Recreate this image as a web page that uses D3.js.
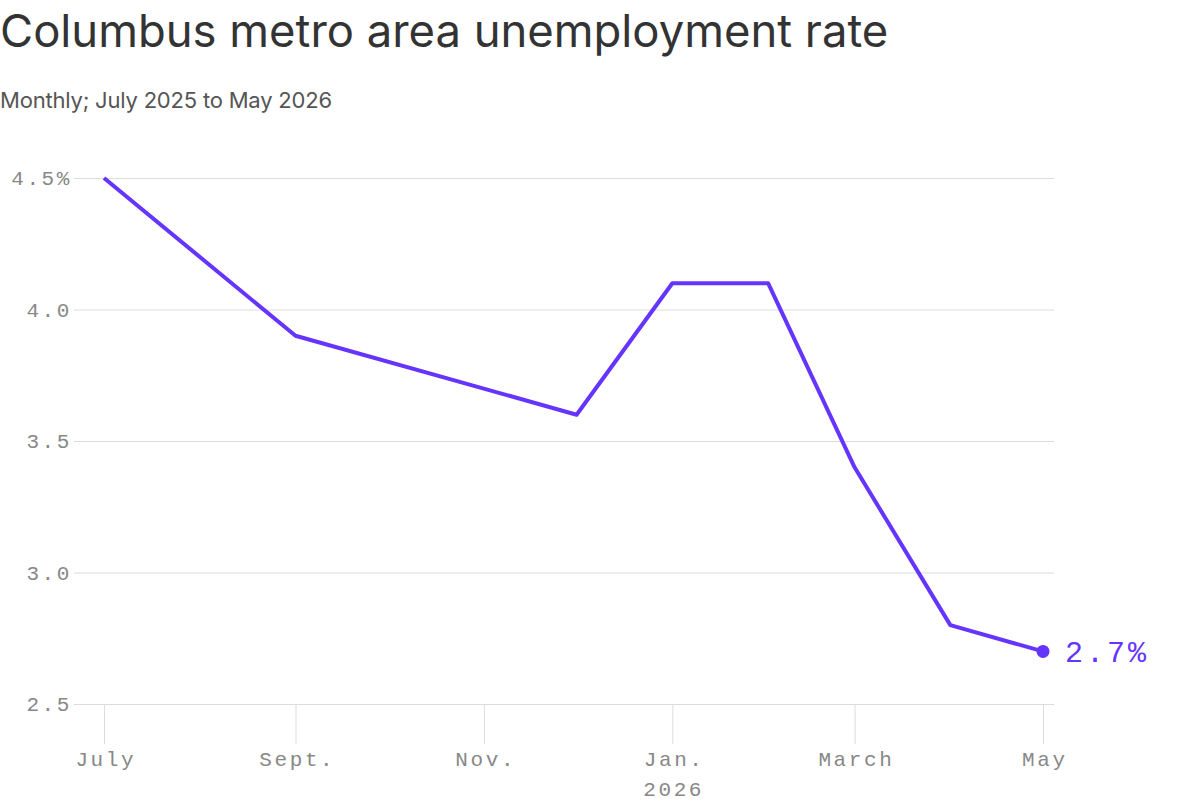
<!DOCTYPE html>
<html>
<head>
<meta charset="utf-8">
<script src="https://cdn.jsdelivr.net/npm/d3@7"></script>
<style>
  body { margin: 0; background: #fff; }
  .title { font-family: Inter, "Noto Sans", sans-serif; font-size: 45.4px; fill: #333; }
  .subtitle { font-family: Inter, "Noto Sans", sans-serif; font-size: 22px; fill: #555; letter-spacing: -0.2px; }
  .tick text, .label { font-family: "Liberation Mono", "DejaVu Sans Mono", monospace; letter-spacing: 2.6px; }
</style>
</head>
<body>
<div id="chart"></div>
<script>
// months with data (Aug, Oct, Nov are missing in the source)
var months = ["2025-07", "2025-09", "2025-12", "2026-01", "2026-02", "2026-03", "2026-04", "2026-05"];
var rates = [4.5, 3.9, 3.6, 4.1, 4.1, 3.4, 2.8, 2.7];

var xTicks = ["2025-07", "2025-09", "2025-11", "2026-01", "2026-03", "2026-05"];
var xTickLabels = ["July", "Sept.", "Nov.", "Jan.", "March", "May"];
var yTicks = [2.5, 3.0, 3.5, 4.0, 4.5];

var parseMonth = d3.timeParse("%Y-%m");

var data = months.map(function (m, i) {
    return {date: parseMonth(m), rate: rates[i]};
});

var width = 1200, height = 812;
var svg = d3.select("#chart").append("svg")
    .attr("width", width)
    .attr("height", height);

svg.append("text").attr("class", "title")
    .attr("x", 0).attr("y", 47)
    .text("Columbus metro area unemployment rate");

svg.append("text").attr("class", "subtitle")
    .attr("x", 0).attr("y", 108)
    .text("Monthly; July 2025 to May 2026");

var x = d3.scaleTime()
    .domain([parseMonth("2025-07"), parseMonth("2026-05")])
    .range([104, 1043]);

var y = d3.scaleLinear()
    .domain([2.5, 4.5])
    .range([704, 178]);

// horizontal grid + y labels
var yAxis = svg.append("g")
    .attr("transform", "translate(74,0)")
    .call(d3.axisRight(y)
        .tickValues(yTicks)
        .tickSize(980)
        .tickFormat(function (d, i) { return i == yTicks.length - 1 ? d3.format(".1f")(d) + "%" : d3.format(".1f")(d); }));
yAxis.select(".domain").remove();
yAxis.selectAll(".tick line").attr("stroke", "#dcdcdc");
yAxis.selectAll(".tick text")
    .attr("x", -2)
    .attr("dy", "0.32em")
    .attr("text-anchor", "end")
    .attr("fill", "#888")
    .style("font-size", "21px");

// x axis ticks
var xAxis = svg.append("g")
    .attr("transform", "translate(0,704)")
    .call(d3.axisBottom(x)
        .tickValues(xTicks.map(parseMonth))
        .tickSize(40)
        .tickPadding(7)
        .tickFormat(function (d, i) { return xTickLabels[i]; }));
xAxis.select(".domain").remove();
xAxis.selectAll(".tick line").attr("stroke", "#dcdcdc");
xAxis.selectAll(".tick text")
    .attr("fill", "#888")
    .attr("dx", "1.3px")
    .style("font-size", "21px");

svg.append("text").attr("class", "label")
    .attr("x", x(parseMonth("2026-01")) + 1.3)
    .attr("y", 796)
    .attr("text-anchor", "middle")
    .attr("fill", "#888")
    .style("font-size", "21px")
    .text("2026");

var line = d3.line()
    .x(function (d) { return x(d.date); })
    .y(function (d) { return y(d.rate); });

svg.append("path")
    .datum(data)
    .attr("fill", "none")
    .attr("stroke", "#6535ff")
    .attr("stroke-width", 4)
    .attr("stroke-linejoin", "round")
    .attr("d", line);

var last = data[data.length - 1];
svg.append("circle")
    .attr("cx", x(last.date))
    .attr("cy", y(last.rate))
    .attr("r", 6.5)
    .attr("fill", "#6535ff");

svg.append("text").attr("class", "label")
    .attr("x", x(last.date) + 22)
    .attr("y", y(last.rate))
    .attr("dy", "0.35em")
    .attr("fill", "#6535ff")
    .style("font-size", "30px")
    .style("letter-spacing", "3px")
    .text(d3.format(".1f")(last.rate) + "%");
</script>
</body>
</html>
